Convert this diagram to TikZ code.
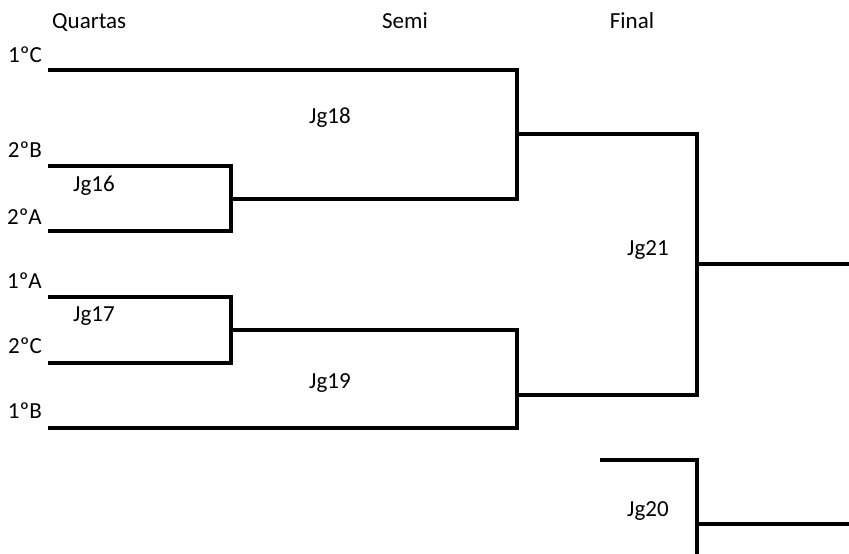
\documentclass[tikz,border=0pt]{standalone}
\usepackage{fontspec}
\setmainfont{Carlito}
\begin{document}
\begin{tikzpicture}[x=1pt,y=-1pt,
  br/.style={line width=3.3pt, line join=miter},
  lbl/.style={font=\fontsize{23}{27}\selectfont, inner sep=0pt}]
\useasboundingbox (0,0) rectangle (849,554);
% quarter-final entries
\coordinate (c1) at (48,70);   \coordinate (c1e) at (517,70);
\coordinate (b2) at (48,166);  \coordinate (b2e) at (231,166);
\coordinate (a2) at (48,231);  \coordinate (a2e) at (231,231);
\coordinate (m16) at (231,199);
\coordinate (a1) at (48,297);  \coordinate (a1e) at (231,297);
\coordinate (c2) at (48,363);  \coordinate (c2e) at (231,363);
\coordinate (m17) at (231,330);
\coordinate (b1) at (48,428);  \coordinate (b1e) at (517,428);
% semis
\coordinate (s18b) at (517,199); \coordinate (m18) at (517,134);
\coordinate (s19t) at (517,330); \coordinate (m19) at (517,395);
% final
\coordinate (f21t) at (697,134); \coordinate (f21b) at (697,395);
\coordinate (m21) at (697,264);  \coordinate (o21) at (849,264);
% third place
\coordinate (t20a) at (600,460); \coordinate (t20b) at (697,460);
\coordinate (t20c) at (697,554); \coordinate (m20) at (697,524);
\coordinate (o20) at (849,524);

\draw[br] (b2) -- (b2e) -- (a2e) -- (a2);
\draw[br] (m16) -- (s18b) -- (c1e) -- (c1);
\draw[br] (a1) -- (a1e) -- (c2e) -- (c2);
\draw[br] (m17) -- (s19t) -- (b1e) -- (b1);
\draw[br] (m18) -- (f21t) -- (f21b) -- (m19);
\draw[br] (m21) -- (o21);
\draw[br] (t20a) -- (t20b) -- (t20c);
\draw[br] (m20) -- (o20);

% headings
\node[lbl, anchor=base west] (hq) at (52,28) {Quartas};
\node[lbl, anchor=base] (hs) at (405,28) {Semi};
\node[lbl, anchor=base] (hf) at (632,28) {Final};
% teams
\node[lbl, anchor=base east] (t1) at (42,62) {1ºC};
\node[lbl, anchor=base east] (t2) at (42,157) {2ºB};
\node[lbl, anchor=base east] (t3) at (42,224) {2ºA};
\node[lbl, anchor=base east] (t4) at (42,288) {1ºA};
\node[lbl, anchor=base east] (t5) at (42,353) {2ºC};
\node[lbl, anchor=base east] (t6) at (42,418) {1ºB};
% games
\node[lbl, anchor=base west] (g16) at (73,191) {Jg16};
\node[lbl, anchor=base west] (g17) at (73,321) {Jg17};
\node[lbl, anchor=base west] (g18) at (309,123) {Jg18};
\node[lbl, anchor=base west] (g19) at (309,388) {Jg19};
\node[lbl, anchor=base west] (g21) at (627,255) {Jg21};
\node[lbl, anchor=base west] (g20) at (627,516) {Jg20};
\end{tikzpicture}
\end{document}
